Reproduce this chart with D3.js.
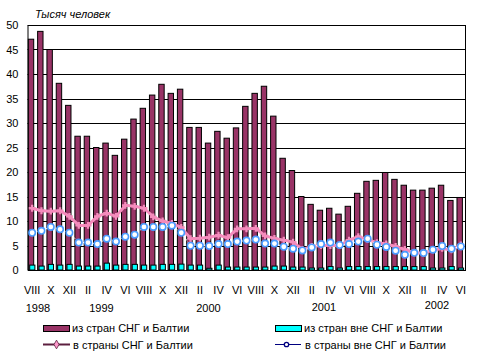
<!DOCTYPE html>
<html><head><meta charset="utf-8">
<script src="https://cdn.jsdelivr.net/npm/d3@7"></script>
<style>body{margin:0;background:#fff}text{font-family:"Liberation Sans",Arial,sans-serif;font-size:11px;fill:#000}</style>
</head><body>
<svg id="c" width="480" height="357"></svg>
<script>
const months = ["VIII","IX","X","XI","XII","I","II","III","IV","V","VI","VII","VIII","IX","X","XI","XII","I","II","III","IV","V","VI","VII","VIII","IX","X","XI","XII","I","II","III","IV","V","VI","VII","VIII","IX","X","XI","XII","I","II","III","IV","V","VI"];
const years = [{y:"1998",x:38,dy:0},{y:"1999",x:101.5,dy:0},{y:"2000",x:208.5,dy:0},{y:"2001",x:324,dy:-1},{y:"2002",x:437,dy:-3}];
const fromCIS = [47.1,48.7,45.0,38.1,33.6,27.3,27.3,25.0,25.9,23.4,26.7,30.8,33.0,35.7,37.9,36.05,36.9,29.1,29.1,25.9,28.3,26.9,29.0,33.4,36.05,37.5,31.4,22.8,20.3,15.0,13.4,12.2,12.6,11.4,13.0,15.65,18.1,18.3,19.9,18.5,17.3,16.3,16.3,16.7,17.3,14.2,14.8];
const fromNonCIS = [1.0,0.8,1.15,1.0,1.15,0.8,0.8,0.8,1.4,1.0,1.15,1.15,1.0,1.0,1.15,1.15,1.2,1.0,1.0,0.35,1.0,0.6,0.6,0.6,0.6,0.6,0.8,0.8,0.6,0.6,0.4,0.4,0.7,0.4,0.7,0.7,0.7,0.7,0.7,0.7,0.7,0.7,0.7,0.4,0.4,0.7,0.4];
const toCIS = [12.6,12.1,12.0,12.1,10.95,9.1,9.1,10.95,11.6,10.95,13.2,13.0,12.6,10.85,10.0,9.5,8.7,6.4,6.5,6.7,7.1,6.6,8.4,8.4,8.5,6.95,6.45,6.1,5.7,4.2,4.8,5.0,5.0,5.0,6.1,6.8,6.2,5.6,5.3,4.8,4.2,3.5,3.4,4.1,4.4,4.1,5.1];
const toNonCIS = [7.6,8.0,8.8,8.3,7.6,5.6,5.6,5.3,6.4,5.8,6.8,7.2,8.8,8.8,8.8,9.05,7.6,4.95,4.95,4.9,5.3,5.3,5.8,6.0,6.2,5.4,5.4,4.75,4.35,4.0,4.6,5.3,5.6,5.1,5.3,5.8,6.4,5.15,4.7,3.95,3.1,3.5,3.45,4.15,4.9,4.35,4.8];
const yTicks = [0,5,10,15,20,25,30,35,40,45,50];
const seriesNames = ["из стран СНГ и Балтии","из стран вне СНГ и Балтии","в страны СНГ и Балтии","в страны вне СНГ и Балтии"];

const svg = d3.select("#c");
const L=27.5, R=465.5, T=25, B=270;
const idx = d3.range(months.length);
const x = d3.scaleBand().domain(idx).range([L,R]).padding(0);
const y = d3.scaleLinear().domain([0,50]).range([B,T]);
const bw = x.bandwidth();

// gridlines
svg.append("g").selectAll("line").data(yTicks.filter(d=>d>0)).join("line")
  .attr("x1",L).attr("x2",R).attr("y1",d=>Math.round(y(d))+0.5).attr("y2",d=>Math.round(y(d))+0.5)
  .attr("stroke","#000").attr("stroke-width",1);
// right border
svg.append("line").attr("x1",R).attr("x2",R).attr("y1",T).attr("y2",B).attr("stroke","#000");

// bars
svg.append("g").selectAll("rect").data(fromCIS).join("rect")
  .attr("x",(d,i)=>x(i)+0.8).attr("width",5.4)
  .attr("y",d=>y(d)).attr("height",d=>B-y(d))
  .attr("fill","#993366").attr("stroke","#000").attr("stroke-width",1);
svg.append("g").selectAll("rect").data(fromNonCIS).join("rect")
  .attr("x",(d,i)=>x(i)+2.2).attr("width",5.2)
  .attr("y",d=>y(d)).attr("height",d=>B-y(d))
  .attr("fill","#00ffff").attr("stroke","#000").attr("stroke-width",1);

// axes
const yAxis = d3.axisLeft(y).tickValues(yTicks).tickSize(0).tickPadding(9);
const gy = svg.append("g").attr("transform",`translate(${L},0)`).call(yAxis);
gy.select(".domain").attr("stroke","#000");
gy.selectAll("text").style("font-size","11px").attr("font-family",null);
const xAxis = d3.axisBottom(x).tickValues(idx.filter(i=>i%2===0)).tickFormat(i=>months[i]).tickSize(0).tickPadding(16);
const gx = svg.append("g").attr("transform",`translate(0,${B})`).call(xAxis);
gx.select(".domain").attr("stroke","#000");
gx.selectAll("text").style("font-size","11px").attr("font-family",null);

// lines
const cx = i=>x(i)+bw/2;
const line = d3.line().x((d,i)=>cx(i)).y(d=>y(d));
svg.append("path").datum(toCIS).attr("d",line).attr("fill","none").attr("stroke","#f48cbc").attr("stroke-width",3);
svg.append("g").selectAll("path").data(toCIS).join("path")
  .attr("transform",(d,i)=>`translate(${cx(i)},${y(d)})`)
  .attr("d",d3.symbol(d3.symbolCross,26)).attr("fill","#f48cbc");
svg.append("path").datum(toNonCIS).attr("d",line).attr("fill","none").attr("stroke","#fff").attr("stroke-width",1).attr("stroke-dasharray","2,1.5");
svg.append("g").selectAll("circle").data(toNonCIS).join("circle")
  .attr("cx",(d,i)=>cx(i)).attr("cy",d=>y(d)).attr("r",3.2)
  .attr("fill","#fff").attr("stroke","#4a9bff").attr("stroke-width",1.6);

// title
svg.append("text").attr("x",35).attr("y",18).style("font-style","italic").text("Тысяч человек");
// years
svg.append("g").selectAll("text").data(years).join("text")
  .attr("x",d=>d.x).attr("y",d=>312+d.dy).attr("text-anchor","middle").text(d=>d.y);

// legend
const lg = svg.append("g");
lg.append("rect").attr("x",43.5).attr("y",325.5).attr("width",26).attr("height",6).attr("fill","#993366").attr("stroke","#000");
lg.append("text").attr("x",72).attr("y",332).text(seriesNames[0]);
lg.append("rect").attr("x",275.5).attr("y",325.5).attr("width",26).attr("height",6).attr("fill","#00ffff").attr("stroke","#000");
lg.append("text").attr("x",304).attr("y",332).text(seriesNames[1]);
lg.append("line").attr("x1",43).attr("x2",70).attr("y1",344.5).attr("y2",344.5).attr("stroke","#5c1f3f").attr("stroke-width",2);
lg.append("path").attr("transform","translate(56.5,344.5)").attr("d",d3.symbol(d3.symbolDiamond,22)).attr("fill","#ff99cc").attr("stroke","#5c1f3f").attr("stroke-width",0.8);
lg.append("text").attr("x",73).attr("y",348.5).text(seriesNames[2]);
lg.append("line").attr("x1",275).attr("x2",301).attr("y1",344.5).attr("y2",344.5).attr("stroke","#000080").attr("stroke-width",1);
lg.append("circle").attr("cx",286.5).attr("cy",344.5).attr("r",2.2).attr("fill","#fff").attr("stroke","#000080").attr("stroke-width",1.3);
lg.append("text").attr("x",305).attr("y",348.5).text(seriesNames[3]);
</script>
</body></html>
